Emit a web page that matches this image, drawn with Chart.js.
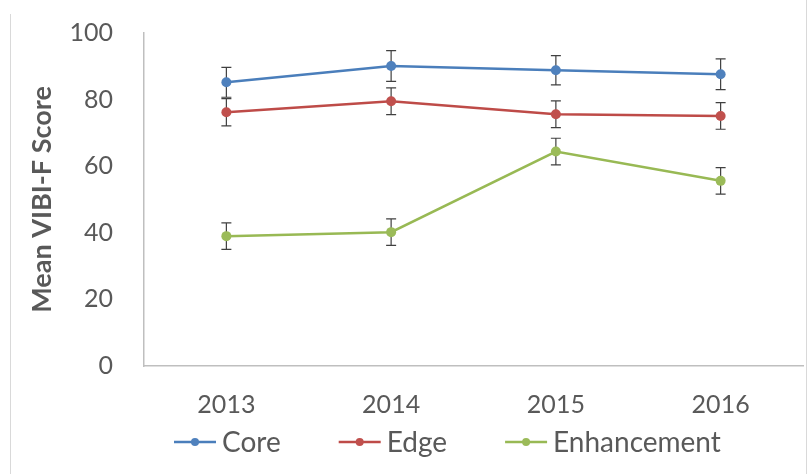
<!DOCTYPE html>
<html>
<head>
<meta charset="utf-8">
<script src="https://cdn.jsdelivr.net/npm/chart.js@4/dist/chart.umd.min.js"></script>
<style>
  html, body { margin: 0; padding: 0; background: #fff; }
  #wrap { position: relative; width: 808px; height: 474px; }
</style>
</head>
<body>
<div id="wrap"><canvas id="vibiChart" width="808" height="474"></canvas></div>
<script>
const years = ['2013', '2014', '2015', '2016'];
const yTicks = [0, 20, 40, 60, 80, 100];

const coreMeans = [85.2, 90.1, 88.8, 87.6];
const coreErr = [4.5, 4.6, 4.4, 4.6];
const edgeMeans = [76.2, 79.5, 75.6, 75.1];
const edgeErr = [4.1, 4.0, 4.0, 4.0];
const enhancementMeans = [39.0, 40.2, 64.4, 55.6];
const enhancementErr = [4.0, 4.0, 4.0, 4.0];

const FONT = 'Lato, "Liberation Sans", sans-serif';
const TEXT = '#595959';

function series(label, data, err, lineColor, dotColor) {
  return {
    label: label,
    data: data,
    errors: err,
    borderColor: lineColor,
    backgroundColor: dotColor,
    pointBackgroundColor: dotColor,
    pointBorderColor: dotColor,
    pointRadius: 5,
    pointBorderWidth: 0,
    borderWidth: 2.5,
    tension: 0
  };
}

// vertical error bars with flat caps, drawn under the lines
const errorBars = {
  id: 'errorBars',
  beforeDatasetsDraw(chart) {
    const ctx = chart.ctx;
    const y = chart.scales.y;
    ctx.save();
    ctx.strokeStyle = '#404040';
    ctx.lineWidth = 1.2;
    chart.data.datasets.forEach((ds, i) => {
      chart.getDatasetMeta(i).data.forEach((pt, j) => {
        const top = y.getPixelForValue(ds.data[j] + ds.errors[j]);
        const bot = y.getPixelForValue(ds.data[j] - ds.errors[j]);
        ctx.beginPath();
        ctx.moveTo(pt.x, top); ctx.lineTo(pt.x, bot);
        ctx.moveTo(pt.x - 5, top); ctx.lineTo(pt.x + 5, top);
        ctx.moveTo(pt.x - 5, bot); ctx.lineTo(pt.x + 5, bot);
        ctx.stroke();
      });
    });
    ctx.restore();
  }
};

// line-and-dot legend along the bottom, plus the faint frame
const bottomLegend = {
  id: 'bottomLegend',
  afterDraw(chart) {
    const ctx = chart.ctx;
    ctx.save();
    ctx.strokeStyle = '#d9d9d9';
    ctx.lineWidth = 1;
    ctx.beginPath();
    ctx.moveTo(10.5, 14); ctx.lineTo(10.5, 474);
    ctx.moveTo(806.5, 0); ctx.lineTo(806.5, 474);
    ctx.stroke();

    ctx.font = '28px ' + FONT;
    ctx.textBaseline = 'middle';
    let x = 174;
    const yMid = 442;
    chart.data.datasets.forEach(ds => {
      ctx.strokeStyle = ds.borderColor;
      ctx.lineWidth = 2.5;
      ctx.beginPath();
      ctx.moveTo(x, yMid); ctx.lineTo(x + 42, yMid);
      ctx.stroke();
      ctx.fillStyle = ds.pointBackgroundColor;
      ctx.beginPath();
      ctx.arc(x + 21, yMid, 4, 0, Math.PI * 2);
      ctx.fill();
      ctx.fillStyle = TEXT;
      ctx.fillText(ds.label, x + 48, yMid + 1);
      x += 48 + ctx.measureText(ds.label).width + 58;
    });
    ctx.restore();
  }
};

new Chart(document.getElementById('vibiChart'), {
  type: 'line',
  data: {
    labels: years,
    datasets: [
      series('Core', coreMeans, coreErr, '#4A7EBB', '#4F81BD'),
      series('Edge', edgeMeans, edgeErr, '#BE4B48', '#C0504D'),
      series('Enhancement', enhancementMeans, enhancementErr, '#98B954', '#9BBB59')
    ]
  },
  options: {
    responsive: false,
    animation: false,
    layout: { padding: { top: 33, right: 2, left: 0, bottom: 0 } },
    plugins: { legend: { display: false }, tooltip: { enabled: false } },
    scales: {
      x: {
        offset: true,
        grid: { display: false, drawTicks: false },
        border: { display: true, color: '#bfbfbf', width: 1.5 },
        ticks: { color: TEXT, font: { family: FONT, size: 25 }, padding: 24 },
        afterFit: s => { s.height = 108; }
      },
      y: {
        min: 0,
        max: 100,
        afterBuildTicks: s => { s.ticks = yTicks.map(v => ({ value: v })); },
        grid: { display: false, drawTicks: false },
        border: { display: true, color: '#bfbfbf', width: 1.5 },
        ticks: { color: TEXT, font: { family: FONT, size: 25 }, padding: 31 },
        title: {
          display: true,
          text: 'Mean VIBI-F Score',
          color: TEXT,
          font: { family: FONT, size: 27, weight: 'bold' },
          padding: { top: 26, bottom: 0 }
        },
        afterFit: s => { s.width = 144; s.paddingTop = 0; s.paddingBottom = 0; }
      }
    }
  },
  plugins: [errorBars, bottomLegend]
});
</script>
</body>
</html>
